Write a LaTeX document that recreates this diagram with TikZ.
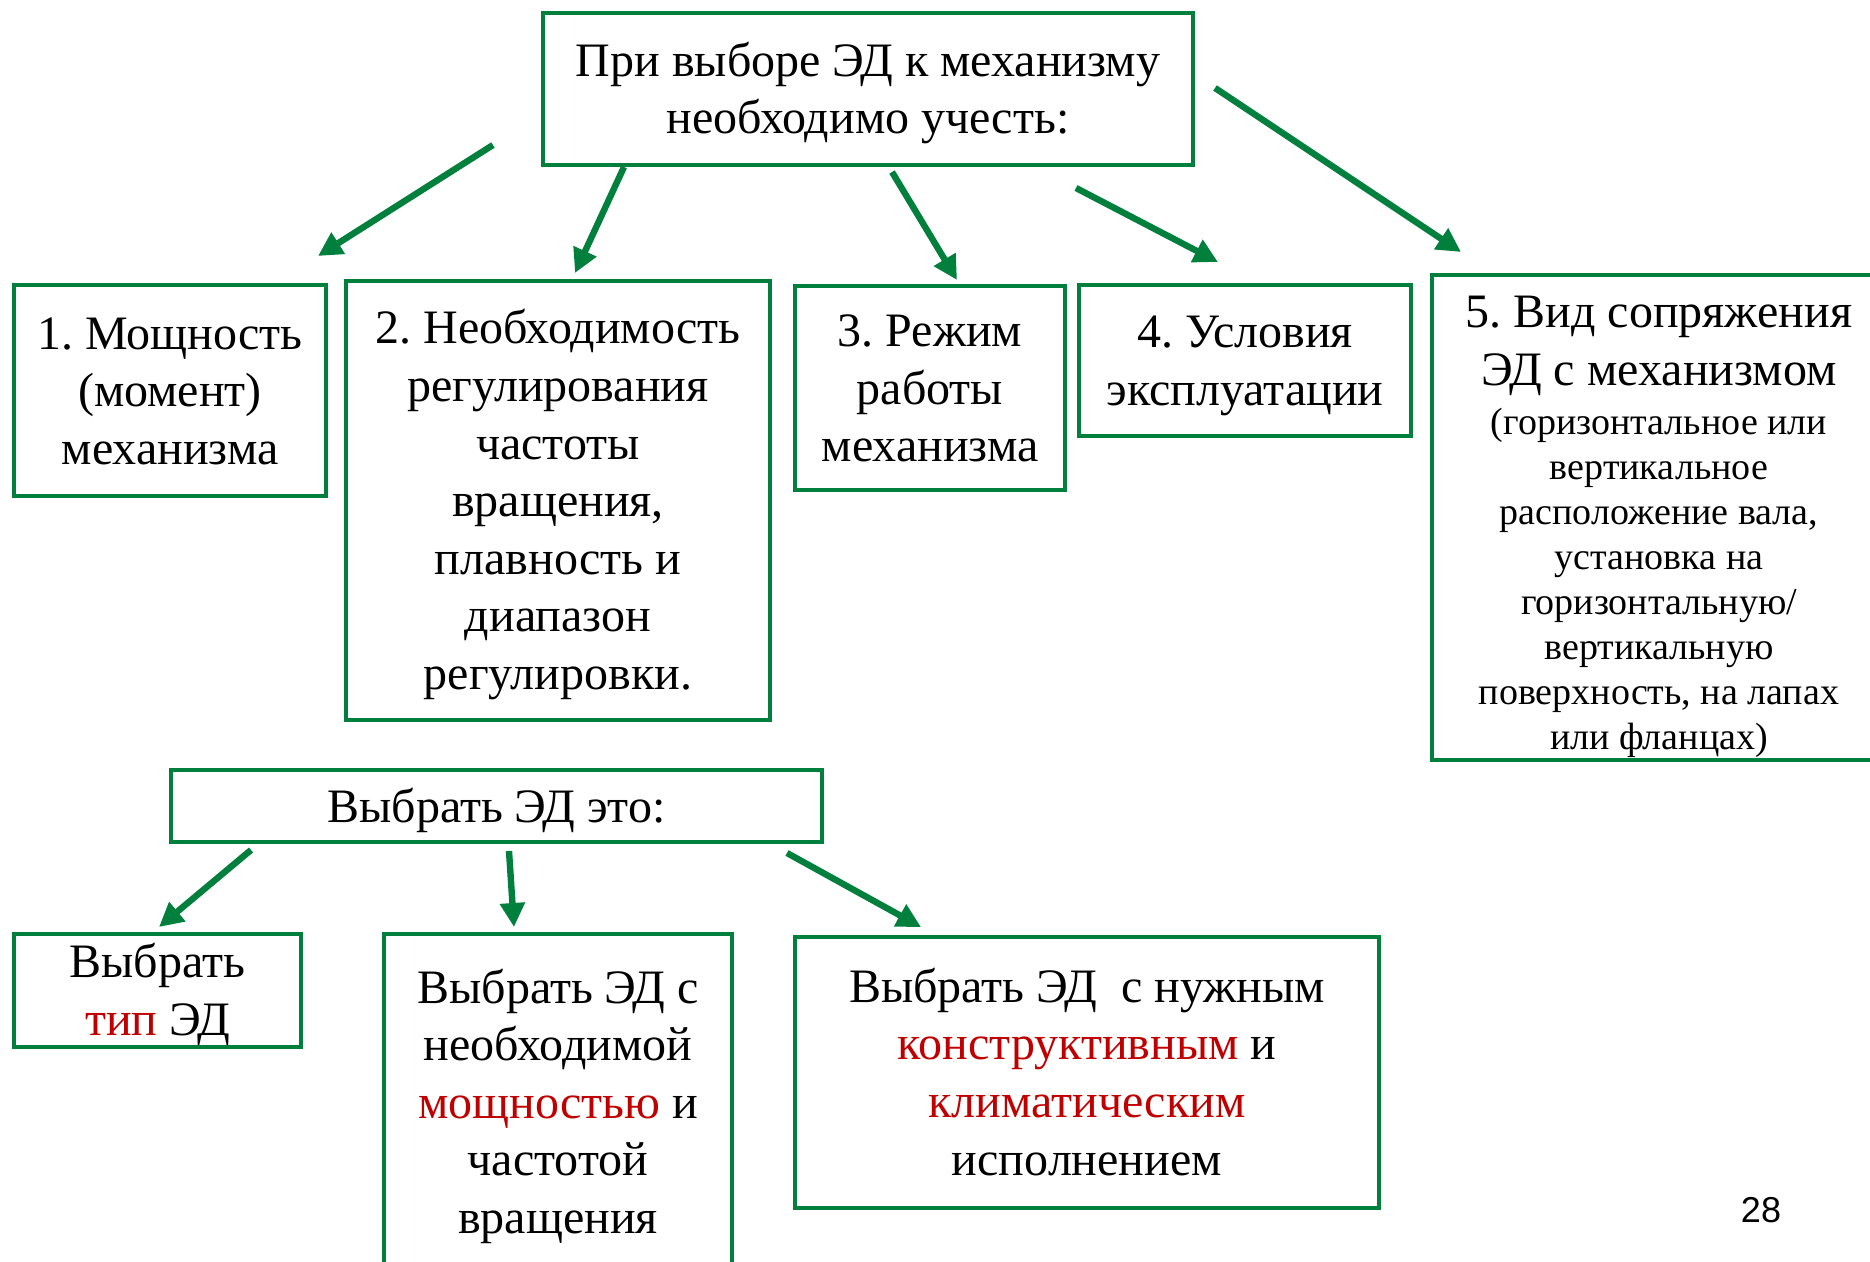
\documentclass[tikz,border=0pt]{standalone}
\usepackage{fontspec}
\setmainfont{Liberation Serif}
\newfontfamily\numfont{Liberation Sans}
\usetikzlibrary{arrows.meta}
\definecolor{edgreen}{RGB}{0,128,60}
\definecolor{edred}{RGB}{192,0,0}
\frenchspacing
\newcommand{\tstrut}{\rule{0pt}{0.891em}}

\begin{document}
\begin{tikzpicture}[x=0.5pt,y=-0.5pt,
    box/.style={draw=edgreen,line width=2pt,align=center,inner sep=0pt,font=\fontsize{24}{28.8}\selectfont,
      execute at end node={\rule[-0.216em]{0pt}{0pt}}},
    arr/.style={draw=edgreen,line width=3.2pt,-{Triangle[length=12pt,width=12pt]}}]
            % Page
            \useasboundingbox[fill=white] (0,0) rectangle (1870,1262);

            % Top box
            \node[box,minimum width=325pt,minimum height=76pt] (need) at (868,89) {\tstrut При выборе ЭД к механизму\\необходимо учесть:};

            % Factors
            \node[box,minimum width=156pt,minimum height=105.5pt] (power) at (170,390.5) {\tstrut 1. Мощность\\(момент)\\механизма};
            \node[box,minimum width=212pt,minimum height=219.5pt] (speed) at (558,500.5) {\tstrut 2. Необходимость\\регулирования\\частоты\\вращения,\\плавность и\\диапазон\\регулировки.};
            \node[box,minimum width=135pt,minimum height=102pt] (mode) at (930,388) {\tstrut 3. Режим\\работы\\механизма};
            \node[box,minimum width=166pt,minimum height=75.5pt] (env) at (1245,360.5) {\tstrut 4. Условия\\эксплуатации};
            \node[box,minimum width=227pt,minimum height=242.5pt,font=\fontsize{19}{22.5}\selectfont] (mount) at (1659,517.5) {{\fontsize{24}{28.8}\selectfont\rule{0pt}{25pt}5. Вид сопряжения}\\[6.3pt]{\fontsize{24}{28.8}\selectfont ЭД с механизмом}\\[2pt](горизонтальное или\\вертикальное\\расположение вала,\\установка на\\горизонтальную/\\вертикальную\\поверхность, на лапах\\или фланцах)};

            % Choice box
            \node[box,minimum width=325.5pt,minimum height=36pt] (choose) at (496.5,806) {\tstrut Выбрать ЭД это:};

            % Choices
            \node[box,minimum width=143.5pt,minimum height=56.5pt] (type) at (157.5,990.5) {\tstrut Выбрать\\\textcolor{edred}{тип} ЭД};
            \node[box,minimum width=174pt,minimum height=168pt] (rating) at (558,1102) {\tstrut Выбрать ЭД с\\необходимой\\\textcolor{edred}{мощностью} и\\частотой\\вращения};
            \node[box,minimum width=292pt,minimum height=135.5pt] (design) at (1087,1072.5) {\tstrut Выбрать ЭД\ \ с нужным\\\textcolor{edred}{конструктивным} и\\\textcolor{edred}{климатическим}\\исполнением};

            % Arrow ends
            \coordinate (s1) at (493,145); \coordinate (e1) at (318,256);
            \coordinate (s2) at (624,167); \coordinate (e2) at (575,273);
            \coordinate (s3) at (892,172); \coordinate (e3) at (957,280);
            \coordinate (s4) at (1076,188); \coordinate (e4) at (1218,262);
            \coordinate (s5) at (1215,88); \coordinate (e5) at (1461,252);
            \coordinate (t1) at (251,850); \coordinate (f1) at (159,927);
            \coordinate (t2) at (509,851); \coordinate (f2) at (514,927);
            \coordinate (t3) at (787,853); \coordinate (f3) at (921,927);

            % Arrows
            \draw[arr] (s1) -- (e1);
            \draw[arr] (s2) -- (e2);
            \draw[arr] (s3) -- (e3);
            \draw[arr] (s4) -- (e4);
            \draw[arr] (s5) -- (e5);
            \draw[arr] (t1) -- (f1);
            \draw[arr] (t2) -- (f2);
            \draw[arr] (t3) -- (f3);

            % Slide number
            \node[font=\numfont\fontsize{18}{21}\selectfont] (page) at (1761,1210) {28};
        \end{tikzpicture}
\end{document}
